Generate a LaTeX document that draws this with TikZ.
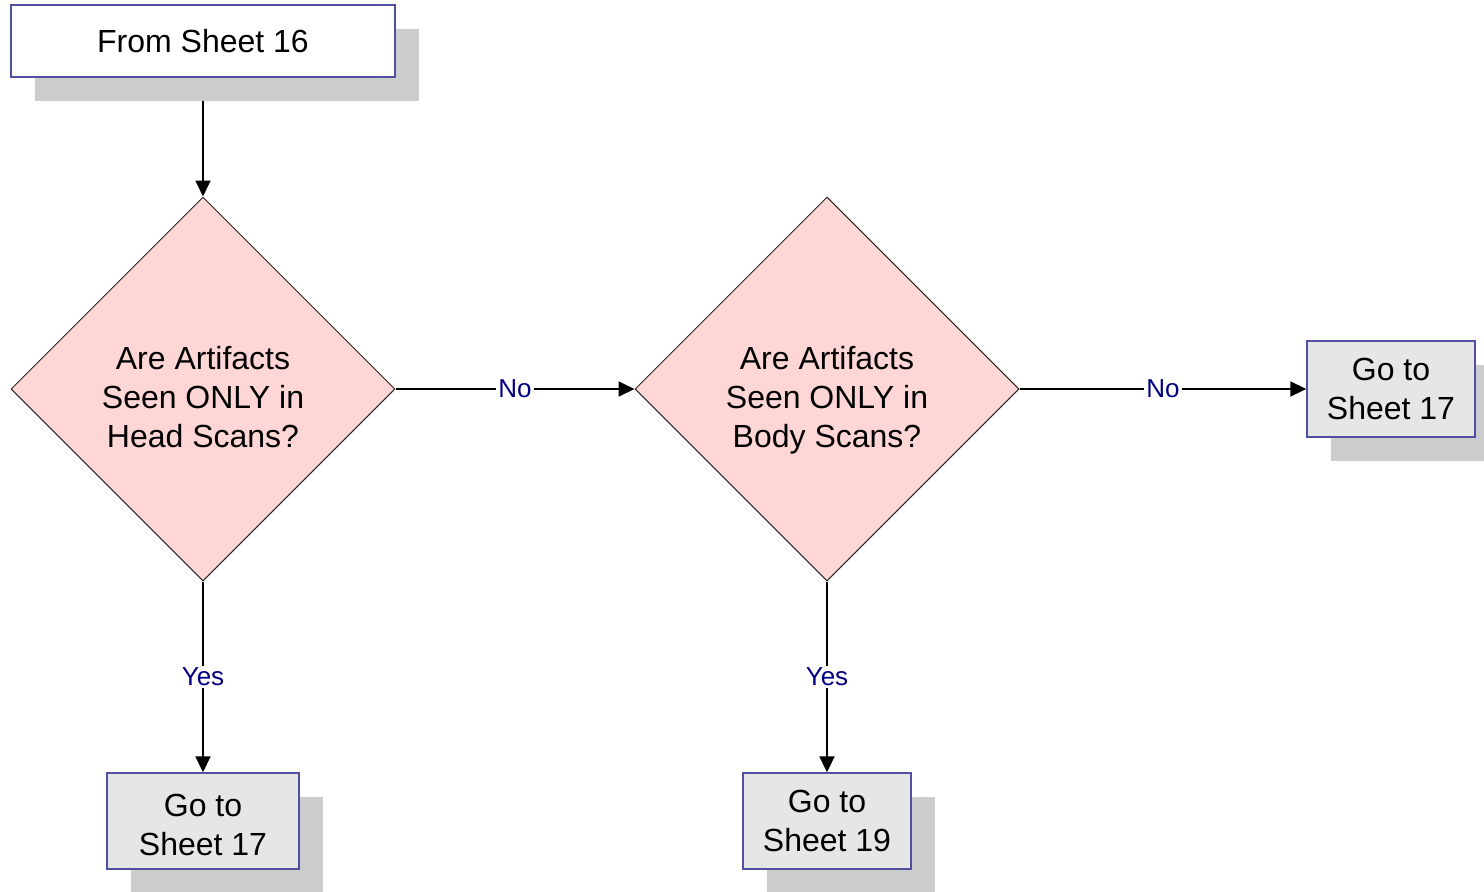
\documentclass[tikz,border=0pt]{standalone}
\usepackage{fontspec}
\setmainfont{Liberation Sans}
\usetikzlibrary{shapes.geometric,shadows,arrows.meta}
\pgfdeclarelayer{background}
\pgfsetlayers{background,main}

\definecolor{boxline}{RGB}{80,80,160}
\definecolor{boxgray}{RGB}{230,230,230}
\definecolor{shadowgray}{RGB}{204,204,204}
\definecolor{decisionpink}{RGB}{255,214,214}
\definecolor{labelblue}{RGB}{0,0,128}

\tikzset{
  boxshadow/.style={drop shadow={shadow xshift=24pt, shadow yshift=-24pt, fill=shadowgray, opacity=1}},
  box/.style={draw=boxline, line width=1.4pt, rectangle, inner sep=0pt, align=center,
    font=\fontsize{32}{39}\selectfont, boxshadow},
  startbox/.style={box, fill=white},
  gotobox/.style={box, fill=boxgray},
  decision/.style={diamond, aspect=1, draw=black!85, line width=1pt, fill=decisionpink,
    inner sep=0pt, minimum width=384pt, minimum height=384pt},
  caption/.style={align=center, font=\fontsize{32}{39}\selectfont},
  conn/.style={draw=black, line width=1.8pt, -{Triangle[length=16pt,width=15pt]}},
  lbl/.style={fill=white, text=labelblue, inner sep=2pt, font=\fontsize{26}{30}\selectfont},
}

\begin{document}
\begin{tikzpicture}[x=1pt,y=-1pt]
  \useasboundingbox (0,0) rectangle (1484,892);

  % process boxes
  \node[startbox, minimum width=384pt, minimum height=72pt] (start) at (203,41) {From Sheet 16};
  \node[gotobox, minimum width=168pt, minimum height=96pt] (goR) at (1391,389) {Go to\\Sheet 17};
  \node[gotobox, minimum width=192pt, minimum height=96pt] (goA) at (203,821) {};
  \node[caption] (goAtxt) at (203,825) {Go to\\Sheet 17};
  \node[gotobox, minimum width=168pt, minimum height=96pt] (goB) at (827,821) {Go to\\Sheet 19};

  % decisions
  \node[decision] (head) at (203,389) {};
  \node[caption] (headtxt) at (203,397) {Are Artifacts\\Seen ONLY in\\Head Scans?};
  \node[decision] (body) at (827,389) {};
  \node[caption] (bodytxt) at (827,400) {Are Artifacts\\Seen ONLY in\\Body Scans?};

  % connectors (behind the boxes and their shadows)
  \begin{pgfonlayer}{background}
    \draw[conn] (start.south) -- (head.north);
    \draw[conn] (head.east) -- node[lbl] {No} (body.west);
    \draw[conn] (body.east) -- node[lbl] {No} (goR.west);
    \draw[conn] (head.south) -- node[lbl] {Yes} (goA.north);
    \draw[conn] (body.south) -- node[lbl] {Yes} (goB.north);
  \end{pgfonlayer}
\end{tikzpicture}
\end{document}
